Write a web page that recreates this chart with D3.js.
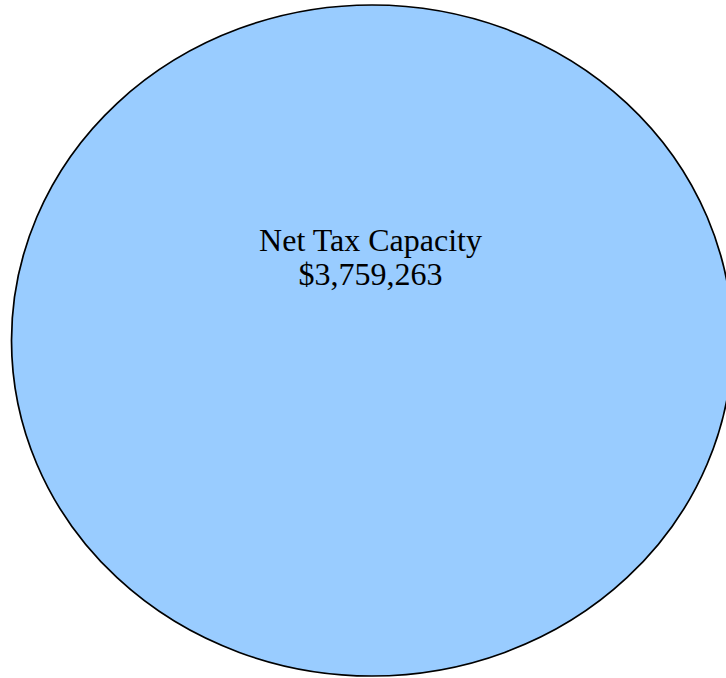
<!DOCTYPE html>
<html>
<head>
<meta charset="utf-8">
<script src="https://cdn.jsdelivr.net/npm/d3@7"></script>
<style>
  body { margin: 0; background: #fff; }
</style>
</head>
<body>
<div id="chart"></div>
<script>
// chart data
const labels = ["Net Tax Capacity"];
const values = [3759263];

var width = 726, height = 678;
var cx = 372, cy = 340.5, rx = 360.5, ry = 335.5;

var svg = d3.select("#chart")
  .append("svg")
  .attr("width", width)
  .attr("height", height);

var pie = d3.pie().sort(null).value(d => d.value);
var slices = pie(labels.map((l, i) => ({ label: l, value: values[i] })));

var arc = d3.arc().innerRadius(0).outerRadius(rx);

// pie drawn as a circle and squashed into the ellipse
var g = svg.append("g")
  .attr("transform", "translate(" + cx + "," + cy + ") scale(1," + (ry / rx) + ")");

g.selectAll("path")
  .data(slices)
  .enter()
  .append("path")
  .attr("d", arc)
  .attr("fill", "#99ccff")
  .attr("stroke", "#000")
  .attr("stroke-width", 1.7)
  .attr("vector-effect", "non-scaling-stroke");

var fmt = d3.format("$,");
var tx = 370.5;

var lbl = svg.selectAll(".lbl")
  .data(slices)
  .enter()
  .append("text")
  .attr("class", "lbl")
  .attr("y", 250.5)
  .attr("text-anchor", "middle")
  .attr("font-family", "'Liberation Serif', 'Times New Roman', serif")
  .attr("font-size", 32)
  .attr("fill", "#000");

lbl.append("tspan").attr("x", tx).text(d => d.data.label);
lbl.append("tspan").attr("x", tx).attr("dy", 34.5).text(d => fmt(d.data.value));
</script>
</body>
</html>
